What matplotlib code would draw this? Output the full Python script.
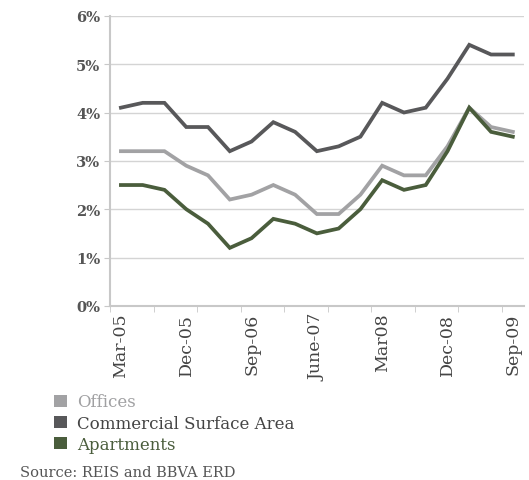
import numpy as np
import matplotlib
matplotlib.use('Agg')
import matplotlib.pyplot as plt
from matplotlib.patches import Patch

# quarterly vacancy-type rates, Mar-05 .. Sep-09
quarters = ['Mar-05', 'Jun-05', 'Sep-05', 'Dec-05', 'Mar-06', 'Jun-06', 'Sep-06',
            'Dec-06', 'Mar-07', 'June-07', 'Sep-07', 'Dec-07', 'Mar08', 'Jun-08',
            'Sep-08', 'Dec-08', 'Mar-09', 'Jun-09', 'Sep-09']
offices = [3.2, 3.2, 3.2, 2.9, 2.7, 2.2, 2.3, 2.5, 2.3, 1.9, 1.9, 2.3, 2.9, 2.7, 2.7, 3.3, 4.1, 3.7, 3.6]
commercial = [4.1, 4.2, 4.2, 3.7, 3.7, 3.2, 3.4, 3.8, 3.6, 3.2, 3.3, 3.5, 4.2, 4.0, 4.1, 4.7, 5.4, 5.2, 5.2]
apartments = [2.5, 2.5, 2.4, 2.0, 1.7, 1.2, 1.4, 1.8, 1.7, 1.5, 1.6, 2.0, 2.6, 2.4, 2.5, 3.2, 4.1, 3.6, 3.5]
series_names = ['Offices', 'Commercial Surface Area', 'Apartments']
colors = ['#a2a2a4', '#58585a', '#4a5d3c']

plt.rcParams['font.family'] = ['DejaVu Serif']

fig = plt.figure(figsize=(5.29, 4.81), dpi=100)
ax = fig.add_axes([0.208, 0.362, 0.782, 0.603])

x = np.arange(len(quarters))
for vals, c in zip([offices, commercial, apartments], colors):
    ax.plot(x, np.array(vals) / 100, color=c, lw=2.7, solid_joinstyle='miter')

ax.set_xlim(-0.5, len(quarters) - 0.5)
ax.set_ylim(0, 0.06)
ax.set_yticks(np.arange(0, 0.061, 0.01))
ax.set_yticklabels(['%d%%' % i for i in range(7)], fontweight='bold', color='#555555', fontsize=10.5)
ax.grid(axis='y', color='#d4d4d4', lw=1)
ax.set_axisbelow(True)

# minor ticks at category boundaries, labels every 3 quarters
ax.set_xticks(np.arange(-0.5, len(quarters), 2), minor=True)
ax.set_xticks(x[::3])
ax.set_xticklabels(quarters[::3], rotation=90, fontsize=12.5, color='#444444')
ax.tick_params(axis='x', which='major', length=0, pad=5)
ax.tick_params(axis='x', which='minor', length=4, color='#c8c8c8')
ax.tick_params(axis='y', length=4, color='#c8c8c8', pad=3)

for s in ['top', 'right']:
    ax.spines[s].set_visible(False)
for s in ['left', 'bottom']:
    ax.spines[s].set_color('#c8c8c8')
    ax.spines[s].set_linewidth(1.5)

handles = [Patch(facecolor=c, edgecolor='none') for c in colors]
fig.legend(handles, series_names, loc='upper left', bbox_to_anchor=(0.103, 0.18),
           frameon=False, fontsize=12, labelcolor=['#a0a0a2', '#444444', '#4a5d3c'],
           handlelength=0.75, handleheight=0.75, handletextpad=0.6, labelspacing=0.25,
           borderaxespad=0, borderpad=0)
fig.text(0.037, 0.008, 'Source: REIS and BBVA ERD', fontsize=10.5, color='#555555')

fig.savefig('out.png', dpi=100)
